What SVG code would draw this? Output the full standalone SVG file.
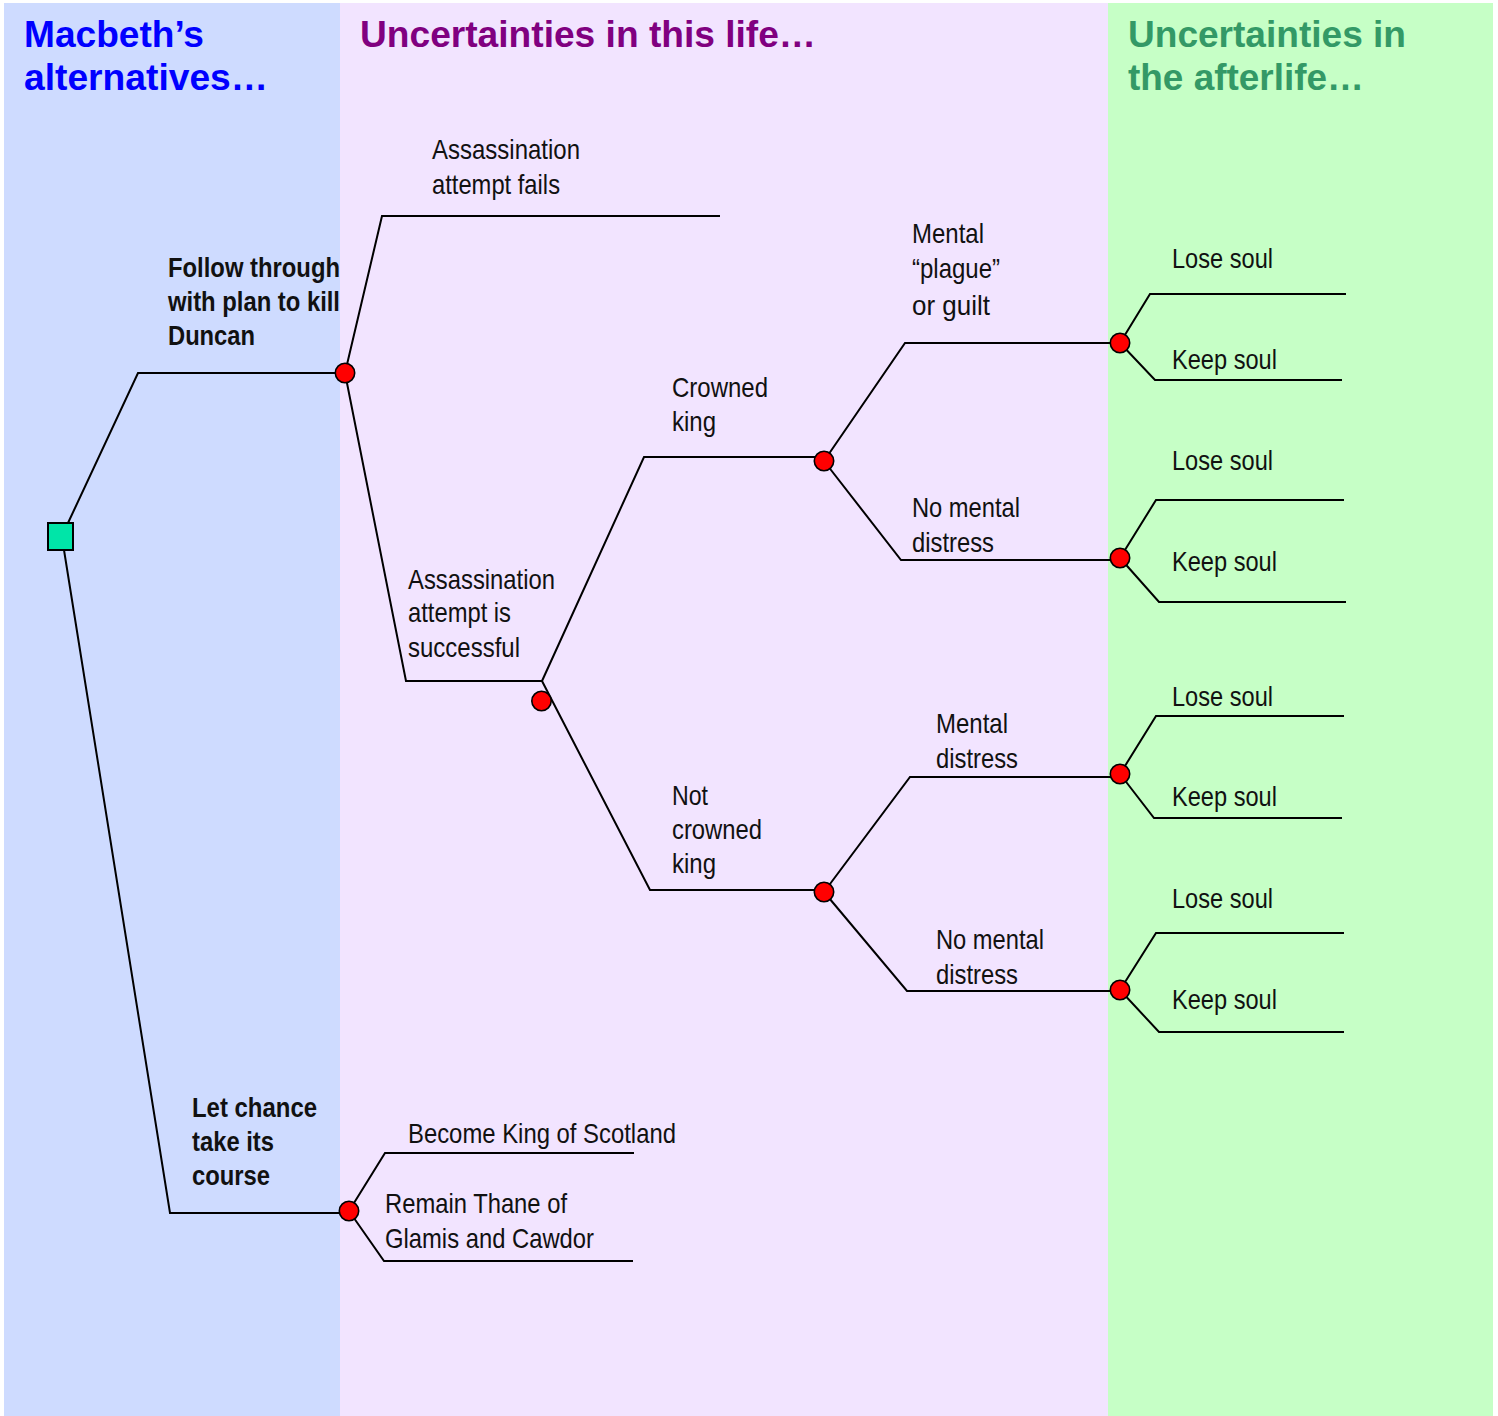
<svg xmlns="http://www.w3.org/2000/svg" width="1498" height="1416" viewBox="0 0 1498 1416">
<style>
.t{font-family:"Liberation Sans Narrow","Arial Narrow","Liberation Sans",Arial,sans-serif;font-size:28px;fill:#111}
.b{font-weight:bold}
.h{font-family:"Liberation Sans",Arial,sans-serif;font-size:36.5px;font-weight:bold}
.ln{fill:none;stroke:#000;stroke-width:2;stroke-linejoin:miter}
.c{fill:#FF0000;stroke:#000;stroke-width:1.6}
</style>
<rect x="0" y="0" width="1498" height="1416" fill="#FFFFFF"/>
<g id="panels">
<rect x="4" y="3" width="336" height="1413" fill="#CEDBFF"/>
<rect x="340" y="3" width="768" height="1413" fill="#F2E4FF"/>
<rect x="1108" y="3" width="385" height="1413" fill="#C6FFC6"/>
</g>
<g id="titles">
<text class="h" fill="#0000FF" x="24" y="47" textLength="180" lengthAdjust="spacingAndGlyphs">Macbeth’s</text>
<text class="h" fill="#0000FF" x="24" y="90" textLength="244" lengthAdjust="spacingAndGlyphs">alternatives…</text>
<text class="h" fill="#800080" x="360" y="47" textLength="456" lengthAdjust="spacingAndGlyphs">Uncertainties in this life…</text>
<text class="h" fill="#339966" x="1128" y="47" textLength="278" lengthAdjust="spacingAndGlyphs">Uncertainties in</text>
<text class="h" fill="#339966" x="1128" y="90" textLength="236" lengthAdjust="spacingAndGlyphs">the afterlife…</text>
</g>
<g id="connectors">
<polyline class="ln" points="68,523 138,373 345,373"/>
<polyline class="ln" points="64,550 170,1213 349,1213"/>
<polyline class="ln" points="345,373 382,216 720,216"/>
<polyline class="ln" points="345,373 406,681 542,681"/>
<polyline class="ln" points="542,681 644,457 824,457"/>
<polyline class="ln" points="542,681 650,890 824,890"/>
<polyline class="ln" points="824,461 905,343 1120,343"/>
<polyline class="ln" points="824,461 901,560 1120,560"/>
<polyline class="ln" points="824,892 910,777 1120,777"/>
<polyline class="ln" points="824,892 907,991 1120,991"/>
<polyline class="ln" points="1120,343 1150,294 1346,294"/>
<polyline class="ln" points="1120,343 1155,380 1342,380"/>
<polyline class="ln" points="1120,558 1156,500 1344,500"/>
<polyline class="ln" points="1120,558 1159,602 1346,602"/>
<polyline class="ln" points="1120,774 1156,716 1344,716"/>
<polyline class="ln" points="1120,774 1154,818 1342,818"/>
<polyline class="ln" points="1120,990 1156,933 1344,933"/>
<polyline class="ln" points="1120,990 1159,1032 1344,1032"/>
<polyline class="ln" points="349,1211 385,1153 634,1153"/>
<polyline class="ln" points="349,1211 384,1261 633,1261"/>
</g>
<g id="decision-root">
<rect x="48" y="523" width="25" height="27" fill="#00E5A8" stroke="#000" stroke-width="2"/>
</g>
<g id="chance-follow"><circle class="c" cx="345" cy="373" r="9.7"/></g>
<g id="chance-let"><circle class="c" cx="349" cy="1211" r="9.7"/></g>
<g id="chance-success"><circle class="c" cx="541.5" cy="701" r="9.7"/></g>
<g id="chance-crowned"><circle class="c" cx="824" cy="461" r="9.7"/></g>
<g id="chance-notcrowned"><circle class="c" cx="824" cy="892" r="9.7"/></g>
<g id="chance-guilt"><circle class="c" cx="1120" cy="343" r="9.7"/></g>
<g id="chance-nodistress1"><circle class="c" cx="1120" cy="558" r="9.7"/></g>
<g id="chance-distress"><circle class="c" cx="1120" cy="774" r="9.7"/></g>
<g id="chance-nodistress2"><circle class="c" cx="1120" cy="990" r="9.7"/></g>
<g id="labels">
<text class="t b" x="168" y="277" textLength="172" lengthAdjust="spacingAndGlyphs">Follow through</text>
<text class="t b" x="168" y="311" textLength="172" lengthAdjust="spacingAndGlyphs">with plan to kill</text>
<text class="t b" x="168" y="345" textLength="87" lengthAdjust="spacingAndGlyphs">Duncan</text>
<text class="t b" x="192" y="1117" textLength="125" lengthAdjust="spacingAndGlyphs">Let chance</text>
<text class="t b" x="192" y="1151" textLength="82" lengthAdjust="spacingAndGlyphs">take its</text>
<text class="t b" x="192" y="1185" textLength="78" lengthAdjust="spacingAndGlyphs">course</text>
<text class="t" x="432" y="159" textLength="148" lengthAdjust="spacingAndGlyphs">Assassination</text>
<text class="t" x="432" y="194" textLength="128" lengthAdjust="spacingAndGlyphs">attempt fails</text>
<text class="t" x="408" y="589" textLength="147" lengthAdjust="spacingAndGlyphs">Assassination</text>
<text class="t" x="408" y="622" textLength="103" lengthAdjust="spacingAndGlyphs">attempt is</text>
<text class="t" x="408" y="657" textLength="112" lengthAdjust="spacingAndGlyphs">successful</text>
<text class="t" x="672" y="397" textLength="96" lengthAdjust="spacingAndGlyphs">Crowned</text>
<text class="t" x="672" y="431" textLength="44" lengthAdjust="spacingAndGlyphs">king</text>
<text class="t" x="672" y="805" textLength="36" lengthAdjust="spacingAndGlyphs">Not</text>
<text class="t" x="672" y="839" textLength="90" lengthAdjust="spacingAndGlyphs">crowned</text>
<text class="t" x="672" y="873" textLength="44" lengthAdjust="spacingAndGlyphs">king</text>
<text class="t" x="912" y="243" textLength="72" lengthAdjust="spacingAndGlyphs">Mental</text>
<text class="t" x="912" y="278" textLength="88" lengthAdjust="spacingAndGlyphs">“plague”</text>
<text class="t" x="912" y="315" textLength="78" lengthAdjust="spacingAndGlyphs">or guilt</text>
<text class="t" x="912" y="517" textLength="108" lengthAdjust="spacingAndGlyphs">No mental</text>
<text class="t" x="912" y="552" textLength="82" lengthAdjust="spacingAndGlyphs">distress</text>
<text class="t" x="936" y="733" textLength="72" lengthAdjust="spacingAndGlyphs">Mental</text>
<text class="t" x="936" y="768" textLength="82" lengthAdjust="spacingAndGlyphs">distress</text>
<text class="t" x="936" y="949" textLength="108" lengthAdjust="spacingAndGlyphs">No mental</text>
<text class="t" x="936" y="984" textLength="82" lengthAdjust="spacingAndGlyphs">distress</text>
<text class="t" x="1172" y="268" textLength="101" lengthAdjust="spacingAndGlyphs">Lose soul</text>
<text class="t" x="1172" y="369" textLength="105" lengthAdjust="spacingAndGlyphs">Keep soul</text>
<text class="t" x="1172" y="470" textLength="101" lengthAdjust="spacingAndGlyphs">Lose soul</text>
<text class="t" x="1172" y="571" textLength="105" lengthAdjust="spacingAndGlyphs">Keep soul</text>
<text class="t" x="1172" y="706" textLength="101" lengthAdjust="spacingAndGlyphs">Lose soul</text>
<text class="t" x="1172" y="806" textLength="105" lengthAdjust="spacingAndGlyphs">Keep soul</text>
<text class="t" x="1172" y="908" textLength="101" lengthAdjust="spacingAndGlyphs">Lose soul</text>
<text class="t" x="1172" y="1009" textLength="105" lengthAdjust="spacingAndGlyphs">Keep soul</text>
<text class="t" x="408" y="1143" textLength="268" lengthAdjust="spacingAndGlyphs">Become King of Scotland</text>
<text class="t" x="385" y="1213" textLength="182" lengthAdjust="spacingAndGlyphs">Remain Thane of</text>
<text class="t" x="385" y="1248" textLength="209" lengthAdjust="spacingAndGlyphs">Glamis and Cawdor</text>
</g>
</svg>
